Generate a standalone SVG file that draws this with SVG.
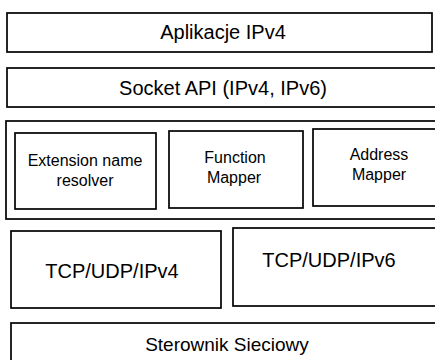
<svg xmlns="http://www.w3.org/2000/svg" width="435" height="360" viewBox="0 0 435 360">
<style>
.box{fill:#fff;stroke:#000;stroke-width:1.7}
text{font-family:"Liberation Sans",Arial,sans-serif;fill:#000;text-anchor:middle}
.l{font-size:20px}
.s{font-size:19px}
.m{font-size:16px}
</style>
<rect width="435" height="360" fill="#fff"/>
<g id="aplikacje">
<rect class="box" x="7" y="13" width="425" height="39"/>
<text class="l" x="223" y="39">Aplikacje IPv4</text>
</g>
<g id="socket">
<rect class="box" x="7" y="68" width="440" height="39"/>
<text class="l" x="223" y="95">Socket API (IPv4, IPv6)</text>
</g>
<g id="extensions">
<rect class="box" x="6" y="121" width="440" height="98"/>
</g>
<g id="resolver">
<rect class="box" x="15" y="133" width="141" height="76"/>
<text class="m" x="85" y="166">Extension name</text>
<text class="m" x="85" y="186">resolver</text>
</g>
<g id="function">
<rect class="box" x="169" y="131" width="134" height="77"/>
<text class="m" x="235" y="163">Function</text>
<text class="m" x="234" y="183">Mapper</text>
</g>
<g id="address">
<rect class="box" x="313" y="129" width="140" height="77"/>
<text class="m" x="379" y="160">Address</text>
<text class="m" x="379" y="180">Mapper</text>
</g>
<g id="tcp4">
<rect class="box" x="11" y="231" width="210" height="77"/>
<text class="l" x="112" y="278">TCP/UDP/IPv4</text>
</g>
<g id="tcp6">
<rect class="box" x="233" y="228" width="220" height="78"/>
<text class="l" x="329" y="267">TCP/UDP/IPv6</text>
</g>
<g id="sterownik">
<rect class="box" x="11" y="323" width="440" height="50"/>
<text class="s" x="227" y="351">Sterownik Sieciowy</text>
</g>
<g id="connectors"/>
</svg>
